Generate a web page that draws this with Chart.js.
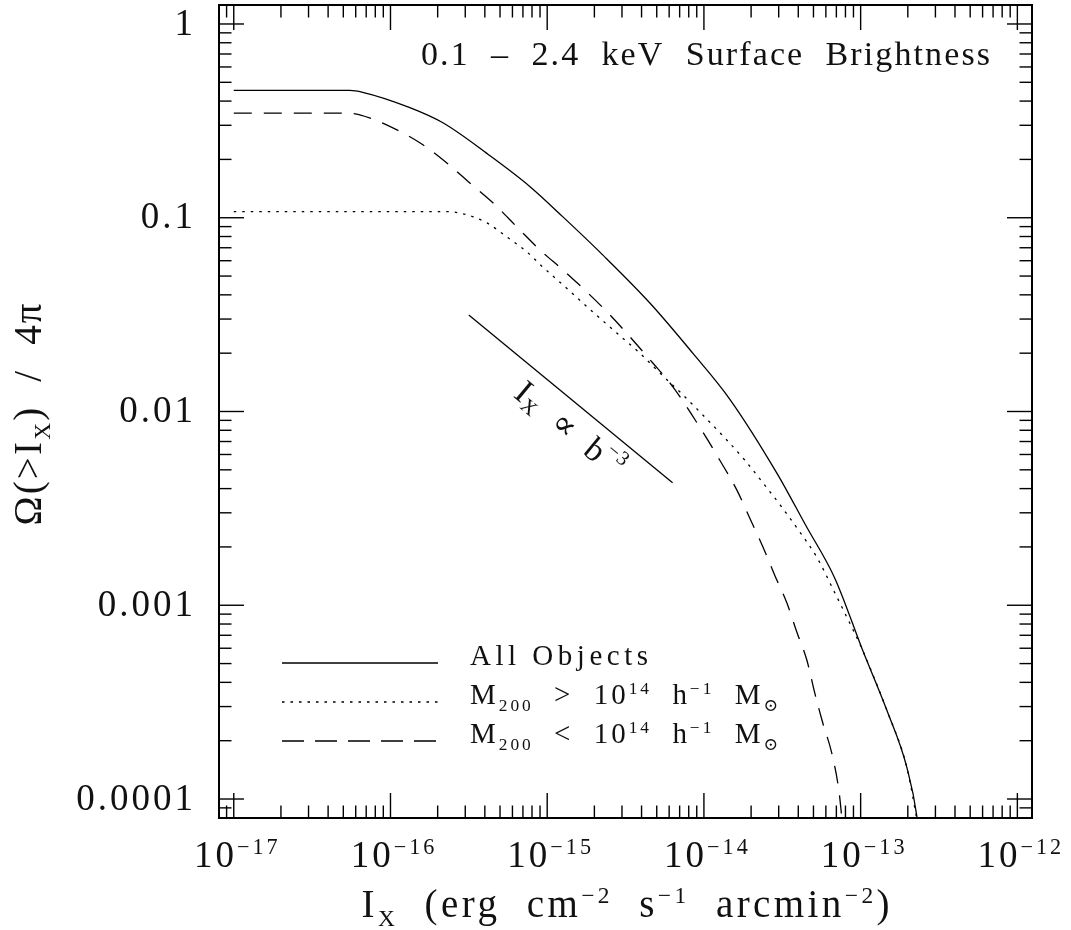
<!DOCTYPE html>
<html>
<head>
<meta charset="utf-8">
<script src="https://cdn.jsdelivr.net/npm/chart.js@4.4.0/dist/chart.umd.min.js"></script>
<style>
  html, body { margin: 0; padding: 0; background: #fff; }
</style>
</head>
<body>
<canvas id="myChart" width="1071" height="930"></canvas>
<script>
// cumulative sky fraction above a given 0.1-2.4 keV surface brightness
const allX = [1e-17, 5.5e-17, 6.65e-17, 1.33e-16, 2.16e-16, 4.31e-16, 7.74e-16, 1.26e-15, 2.26e-15, 4.52e-15,
  8.49e-15, 1.46e-14, 2.92e-14, 4.47e-14, 6.84e-14, 1.03e-13, 1.47e-13, 1.97e-13, 2.29e-13, 2.31e-13];
const allY = [0.454, 0.454, 0.444, 0.370, 0.309, 0.209, 0.145, 0.101, 0.0643, 0.0363,
  0.0200, 0.0116, 0.00481, 0.00258, 0.00138, 5.86e-4, 2.87e-4, 1.46e-4, 8.04e-5, 7.5e-5];

const bigX = [1e-17, 2.29e-16, 3.07e-16, 4.12e-16, 5.52e-16, 7.41e-16, 9.37e-16, 1.26e-15, 1.95e-15, 2.78e-15,
  3.90e-15, 5.24e-15, 7.33e-15, 9.84e-15, 1.36e-14, 1.82e-14, 2.38e-14, 3.14e-14, 4.09e-14, 5.25e-14,
  6.84e-14, 8.16e-14, 9.89e-14, 1.11e-13, 1.47e-13, 1.97e-13, 2.31e-13];
const bigY = [0.1076, 0.1076, 0.1035, 0.0941, 0.0797, 0.0667, 0.0557, 0.0450, 0.0327, 0.0254,
  0.0200, 0.0158, 0.0122, 0.00959, 0.00730, 0.00562, 0.00428, 0.00321, 0.00239, 0.00177,
  0.00116, 8.69e-4, 6.3e-4, 5.08e-4, 2.87e-4, 1.46e-4, 7.5e-5];

const smallX = [1e-17, 5.26e-17, 6.37e-17, 1.10e-16, 1.61e-16, 2.32e-16, 3.21e-16, 4.63e-16, 6.49e-16, 8.97e-16,
  1.26e-15, 1.79e-15, 2.44e-15, 3.37e-15, 4.66e-15, 6.34e-15, 1.01e-14, 1.26e-14, 1.62e-14, 1.96e-14,
  2.38e-14, 2.83e-14, 3.38e-14, 3.92e-14, 4.54e-14, 5.10e-14, 5.74e-14, 6.55e-14, 7.26e-14, 7.6e-14];
const smallY = [0.347, 0.347, 0.340, 0.284, 0.238, 0.190, 0.151, 0.117, 0.0887, 0.0683,
  0.0538, 0.0414, 0.0323, 0.0243, 0.0180, 0.0134, 0.00757, 0.00562, 0.00394, 0.00282,
  0.00200, 0.00143, 0.00103, 7.26e-4, 5.20e-4, 3.52e-4, 2.46e-4, 1.72e-4, 1.11e-4, 7.9e-5];

// I_x ∝ b^-3 reference slope
const slopeX = [3.16e-16, 6.31e-15];
const slopeY = [0.0315, 0.00429];

const xMin = 8.05e-18, xMax = 1.24e-12;
const yMin = 7.98e-5, yMax = 1.253;
const xTickExps = [-17, -16, -15, -14, -13, -12];
const yTickValues = [0.0001, 0.001, 0.01, 0.1, 1];
const yTickLabels = ["0.0001", "0.001", "0.01", "0.1", "1"];

const FONT = '"Liberation Serif", "DejaVu Serif", serif';
const DOTS = [2.5, 6];
const DASHES = [18, 12];

function toPoints(xs, ys) {
  let pts = [];
  for (let i = 0; i < xs.length; i++) {
    pts.push({ x: xs[i], y: ys[i] });
  }
  return pts;
}

// text made of pieces: [text, "n" | "sup" | "sub"]
function richPieces(c, parts, size, spacing) {
  return parts.map(p => {
    let s = p[1] === "n" ? size : size * 0.6;
    let dy = p[1] === "sup" ? -size * 0.36 : p[1] === "sub" ? size * 0.24 : 0;
    c.font = s + "px " + FONT;
    c.letterSpacing = spacing + "px";
    return { text: p[0], size: s, dy: dy, w: c.measureText(p[0]).width };
  });
}

function drawRich(c, parts, x, y, size, align, spacing) {
  let pieces = richPieces(c, parts, size, spacing);
  let total = pieces.reduce((a, p) => a + p.w, 0) - spacing;
  let cx = align === "center" ? x - total / 2 : align === "right" ? x - total : x;
  c.textAlign = "left";
  pieces.forEach(p => {
    c.font = p.size + "px " + FONT;
    c.letterSpacing = spacing + "px";
    c.fillText(p.text, cx, y + p.dy);
    cx += p.w;
  });
  c.letterSpacing = "0px";
}

// spread letters so the text covers the given width
function fitRich(c, parts, x, y, size, align, width) {
  let pieces = richPieces(c, parts, size, 0);
  let natural = pieces.reduce((a, p) => a + p.w, 0);
  let chars = parts.reduce((a, p) => a + p[0].length, 0);
  let spacing = (width - natural) / Math.max(chars - 1, 1);
  drawRich(c, parts, x, y, size, align, spacing);
}

function strokeLine(c, x1, y1, x2, y2, dash) {
  c.setLineDash(dash || []);
  c.beginPath();
  c.moveTo(x1, y1);
  c.lineTo(x2, y2);
  c.stroke();
  c.setLineDash([]);
}

const framePlugin = {
  id: "frame",
  afterDraw(chart) {
    let c = chart.ctx;
    let a = chart.chartArea;
    let xs = chart.scales.x;
    let ys = chart.scales.y;
    c.save();
    c.strokeStyle = "#000";
    c.fillStyle = "#111";

    // box
    c.lineWidth = 2;
    c.strokeRect(a.left, a.top, a.right - a.left, a.bottom - a.top);

    // ticks on all four sides, pointing inward
    c.lineWidth = 1.4;
    for (let e = -18; e <= -12; e++) {
      for (let m = 1; m <= 9; m++) {
        let v = m * Math.pow(10, e);
        if (v < xMin || v > xMax) continue;
        let px = xs.getPixelForValue(v);
        let len = m === 1 ? 25 : 12.5;
        strokeLine(c, px, a.bottom, px, a.bottom - len);
        strokeLine(c, px, a.top, px, a.top + len);
      }
    }
    for (let e = -5; e <= 0; e++) {
      for (let m = 1; m <= 9; m++) {
        let v = m * Math.pow(10, e);
        if (v < yMin || v > yMax) continue;
        let py = ys.getPixelForValue(v);
        let len = m === 1 ? 25 : 12.5;
        strokeLine(c, a.left, py, a.left + len, py);
        strokeLine(c, a.right, py, a.right - len, py);
      }
    }

    // tick labels
    c.textBaseline = "alphabetic";
    xTickExps.forEach(e => {
      let px = xs.getPixelForValue(Math.pow(10, e));
      drawRich(c, [["10", "n"], ["\u2212" + Math.abs(e), "sup"]], px + 2, a.bottom + 49, 37, "center", 3);
    });
    c.textBaseline = "middle";
    yTickValues.forEach((v, i) => {
      let py = ys.getPixelForValue(v);
      drawRich(c, [[yTickLabels[i], "n"]], a.left - 26, py + 1, 37, "right", 3);
    });

    // axis titles
    c.textBaseline = "alphabetic";
    fitRich(c, [["I", "n"], ["X", "sub"], ["  (erg  cm", "n"], ["\u22122", "sup"], ["  s", "n"],
      ["\u22121", "sup"], ["  arcmin", "n"], ["\u22122", "sup"], [")", "n"]],
      (a.left + a.right) / 2, 917, 39, "center", 528);
    c.save();
    c.translate(41, (a.top + a.bottom) / 2 + 3);
    c.rotate(-Math.PI / 2);
    fitRich(c, [["\u03A9(>I", "n"], ["X", "sub"], [")  /  4\u03C0", "n"]], 0, 0, 39, "center", 222);
    c.restore();

    // band label
    fitRich(c, [["0.1  \u2013  2.4  keV  Surface  Brightness", "n"]], 421, 65, 34, "left", 569);

    // slope label, rotated along the reference line
    let x1 = xs.getPixelForValue(slopeX[0]), y1 = ys.getPixelForValue(slopeY[0]);
    let x2 = xs.getPixelForValue(slopeX[1]), y2 = ys.getPixelForValue(slopeY[1]);
    let ang = Math.atan2(y2 - y1, x2 - x1);
    let tx = x1 + 0.57 * (x2 - x1) - 26 * Math.sin(ang);
    let ty = y1 + 0.57 * (y2 - y1) + 26 * Math.cos(ang);
    c.save();
    c.translate(tx, ty);
    c.rotate(ang);
    c.textBaseline = "middle";
    fitRich(c, [["I", "n"], ["X", "sub"], ["  \u221D  b", "n"], ["\u22123", "sup"]], 0, 0, 34, "center", 130);
    c.restore();

    // legend
    c.lineWidth = 1.3;
    c.textBaseline = "alphabetic";
    strokeLine(c, 282, 663, 438, 663);
    strokeLine(c, 282, 702, 438, 702, DOTS);
    strokeLine(c, 282, 741, 438, 741, [22, 11]);
    fitRich(c, [["All Objects", "n"]], 470, 665, 29, "left", 178);
    fitRich(c, [["M", "n"], ["200", "sub"], ["  >  10", "n"], ["14", "sup"], ["  h", "n"], ["\u22121", "sup"],
      ["  M", "n"], ["\u2299", "sub"]], 470, 704, 29, "left", 308);
    fitRich(c, [["M", "n"], ["200", "sub"], ["  <  10", "n"], ["14", "sup"], ["  h", "n"], ["\u22121", "sup"],
      ["  M", "n"], ["\u2299", "sub"]], 470, 743, 29, "left", 308);

    c.restore();
  }
};

let ctx = document.getElementById("myChart").getContext("2d");
let chart = new Chart(ctx, {
  type: "scatter",
  data: {
    datasets: [
      {
        label: "All Objects",
        data: toPoints(allX, allY),
        showLine: true,
        borderColor: "#000",
        borderWidth: 1.3,
        cubicInterpolationMode: "monotone",
        pointRadius: 0
      },
      {
        label: "M200 > 1e14",
        data: toPoints(bigX, bigY),
        showLine: true,
        borderColor: "#000",
        borderWidth: 1.3,
        borderDash: DOTS,
        cubicInterpolationMode: "monotone",
        pointRadius: 0
      },
      {
        label: "M200 < 1e14",
        data: toPoints(smallX, smallY),
        showLine: true,
        borderColor: "#000",
        borderWidth: 1.3,
        borderDash: DASHES,
        cubicInterpolationMode: "monotone",
        pointRadius: 0
      },
      {
        label: "slope",
        data: toPoints(slopeX, slopeY),
        showLine: true,
        borderColor: "#000",
        borderWidth: 1.3,
        pointRadius: 0
      }
    ]
  },
  options: {
    responsive: false,
    animation: false,
    layout: { padding: { left: 219, top: 5, right: 39, bottom: 112 } },
    plugins: {
      legend: { display: false },
      tooltip: { enabled: false }
    },
    scales: {
      x: { type: "logarithmic", min: xMin, max: xMax, display: false },
      y: { type: "logarithmic", min: yMin, max: yMax, display: false }
    }
  },
  plugins: [framePlugin]
});
</script>
</body>
</html>
